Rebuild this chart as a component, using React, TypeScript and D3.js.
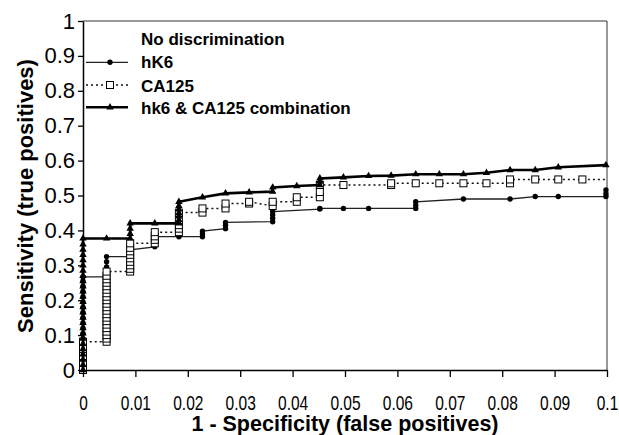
import { useEffect, useRef } from 'react';
import * as d3 from 'd3';

// ROC points: [1 - specificity, sensitivity]
const hk6Points: [number, number][] = [
  [0, 0], [0, 0.015], [0, 0.03], [0, 0.045], [0, 0.06], [0, 0.075], [0, 0.09], [0, 0.105],
  [0, 0.12], [0, 0.135], [0, 0.15], [0, 0.165], [0, 0.18], [0, 0.195], [0, 0.21], [0, 0.225],
  [0, 0.24], [0, 0.255], [0, 0.267],
  [0.0045, 0.267], [0.0045, 0.28], [0.0045, 0.295], [0.0045, 0.31], [0.0045, 0.325],
  [0.009, 0.325], [0.009, 0.335], [0.009, 0.344],
  [0.0137, 0.353], [0.0137, 0.365], [0.0137, 0.382],
  [0.0183, 0.382],
  [0.0228, 0.382], [0.0228, 0.39], [0.0228, 0.398],
  [0.0272, 0.405], [0.0272, 0.415], [0.0272, 0.423],
  [0.0362, 0.425], [0.0362, 0.435], [0.0362, 0.445], [0.0362, 0.454],
  [0.0452, 0.461], [0.0452, 0.463],
  [0.0497, 0.463], [0.0545, 0.463],
  [0.0635, 0.463], [0.0635, 0.472], [0.0635, 0.482],
  [0.0726, 0.49], [0.0815, 0.49], [0.0863, 0.497], [0.0907, 0.497],
  [0.0998, 0.497], [0.0998, 0.505], [0.0998, 0.516],
];

const ca125Points: [number, number][] = [
  [0, 0], [0, 0.02], [0, 0.04], [0, 0.06], [0, 0.081],
  [0.0045, 0.081], [0.0045, 0.09], [0.0045, 0.1], [0.0045, 0.11], [0.0045, 0.12], [0.0045, 0.13],
  [0.0045, 0.14], [0.0045, 0.15], [0.0045, 0.16], [0.0045, 0.17], [0.0045, 0.18], [0.0045, 0.19],
  [0.0045, 0.2], [0.0045, 0.21], [0.0045, 0.22], [0.0045, 0.23], [0.0045, 0.24], [0.0045, 0.25],
  [0.0045, 0.26], [0.0045, 0.27], [0.0045, 0.282],
  [0.009, 0.282], [0.009, 0.29], [0.009, 0.3], [0.009, 0.31], [0.009, 0.32], [0.009, 0.33],
  [0.009, 0.34], [0.009, 0.35], [0.009, 0.363],
  [0.0137, 0.363], [0.0137, 0.373], [0.0137, 0.383], [0.0137, 0.395],
  [0.0183, 0.395], [0.0183, 0.405], [0.0183, 0.415], [0.0183, 0.43], [0.0183, 0.451],
  [0.0228, 0.451], [0.0228, 0.463],
  [0.0272, 0.463], [0.0272, 0.477],
  [0.0317, 0.477], [0.0317, 0.482],
  [0.0362, 0.47], [0.0362, 0.482],
  [0.0408, 0.482], [0.0408, 0.495],
  [0.0452, 0.495], [0.0452, 0.51], [0.0452, 0.53],
  [0.0497, 0.53], [0.0588, 0.53], [0.0588, 0.535],
  [0.0635, 0.535], [0.068, 0.535], [0.0726, 0.535], [0.077, 0.535],
  [0.0815, 0.535], [0.0815, 0.546],
  [0.0863, 0.546], [0.0907, 0.546], [0.0953, 0.546], [0.1, 0.546],
];

const comboPoints: [number, number][] = [
  [0, 0], [0, 0.015], [0, 0.03], [0, 0.045], [0, 0.06], [0, 0.075], [0, 0.09], [0, 0.105],
  [0, 0.12], [0, 0.135], [0, 0.15], [0, 0.165], [0, 0.18], [0, 0.195], [0, 0.21], [0, 0.225],
  [0, 0.24], [0, 0.255], [0, 0.27], [0, 0.285], [0, 0.3], [0, 0.315], [0, 0.33], [0, 0.345],
  [0, 0.36], [0, 0.377],
  [0.0045, 0.377],
  [0.009, 0.377], [0.009, 0.39], [0.009, 0.405], [0.009, 0.42],
  [0.0137, 0.42],
  [0.0183, 0.42], [0.0183, 0.43], [0.0183, 0.44], [0.0183, 0.45], [0.0183, 0.46], [0.0183, 0.47], [0.0183, 0.482],
  [0.0228, 0.495], [0.0272, 0.506], [0.0317, 0.509],
  [0.0362, 0.511], [0.0362, 0.523],
  [0.0408, 0.527],
  [0.0452, 0.53], [0.0452, 0.54], [0.0452, 0.549],
  [0.0497, 0.552], [0.0545, 0.556], [0.0588, 0.557], [0.0635, 0.561], [0.068, 0.561],
  [0.0726, 0.561], [0.077, 0.565], [0.0815, 0.573], [0.0863, 0.573], [0.0907, 0.581],
  [0.0998, 0.587],
];

const xTicks = [0, 0.01, 0.02, 0.03, 0.04, 0.05, 0.06, 0.07, 0.08, 0.09, 0.1];
const xTickLabels = ['0', '0.01', '0.02', '0.03', '0.04', '0.05', '0.06', '0.07', '0.08', '0.09', '0.1'];
const yTicks = [0, 0.1, 0.2, 0.3, 0.4, 0.5, 0.6, 0.7, 0.8, 0.9, 1];
const yTickLabels = ['0', '0.1', '0.2', '0.3', '0.4', '0.5', '0.6', '0.7', '0.8', '0.9', '1'];

const legendLabels = ['No discrimination', 'hK6', 'CA125', 'hk6 & CA125 combination'];

const App = () => {
  const svgRef = useRef<SVGSVGElement>(null);

  useEffect(() => {
    const svg = d3.select(svgRef.current);
    svg.selectAll('*').remove();

    const font = 'Arial, "Liberation Sans", sans-serif';
    const left = 83, right = 607, top = 21, bottom = 370;

    const x = d3.scaleLinear().domain([0, 0.1]).range([left, right]);
    const y = d3.scaleLinear().domain([0, 1]).range([bottom, top]);

    // frame (top and right)
    svg.append('path')
      .attr('d', `M${left},${top}H${right}V${bottom}`)
      .attr('fill', 'none')
      .attr('stroke', '#333')
      .attr('stroke-width', 1);

    const line = d3.line<[number, number]>().x(d => x(d[0])).y(d => y(d[1]));

    const drawSeries = (
      pts: [number, number][],
      stroke: { width: number; dash?: string; color: string },
      marker: string,
      skipLastMarker = false
    ) => {
      const g = svg.append('g');
      g.append('path')
        .attr('d', line(pts))
        .attr('fill', 'none')
        .attr('stroke', stroke.color)
        .attr('stroke-width', stroke.width)
        .attr('stroke-dasharray', stroke.dash ?? null);
      const markPts = skipLastMarker ? pts.slice(0, -1) : pts;
      if (marker === 'circle') {
        g.selectAll('circle').data(markPts).enter().append('circle')
          .attr('cx', d => x(d[0])).attr('cy', d => y(d[1])).attr('r', 2.7)
          .attr('fill', '#000');
      } else if (marker === 'square') {
        g.selectAll('rect').data(markPts).enter().append('rect')
          .attr('x', d => x(d[0]) - 3.5).attr('y', d => y(d[1]) - 3.5)
          .attr('width', 7).attr('height', 7)
          .attr('fill', '#fff').attr('stroke', '#000').attr('stroke-width', 1);
      } else {
        const tri = d3.symbol().type(d3.symbolTriangle).size(24);
        g.selectAll('path.m').data(markPts).enter().append('path')
          .attr('class', 'm')
          .attr('d', tri)
          .attr('transform', d => `translate(${x(d[0])},${y(d[1])})`)
          .attr('fill', '#000');
      }
    };

    drawSeries(hk6Points, { width: 1.3, color: '#222' }, 'circle');
    drawSeries(ca125Points, { width: 1.5, dash: '2,3', color: '#111' }, 'square', true);
    drawSeries(comboPoints, { width: 2.6, color: '#000' }, 'triangle');

    // axes
    const yAxis = svg.append('g')
      .attr('transform', `translate(${left},0)`)
      .call(
        d3.axisLeft(y).tickValues(yTicks).tickSize(5).tickSizeOuter(0)
          .tickFormat((_, i) => yTickLabels[i])
      );
    yAxis.select('.domain').attr('stroke-width', 1.5);
    yAxis.selectAll('.tick line').attr('stroke-width', 1.3);
    yAxis.selectAll('text')
      .attr('font-family', font)
      .attr('font-size', 22)
      .attr('fill', '#000')
      .attr('x', -8);

    const xAxis = svg.append('g')
      .attr('transform', `translate(0,${bottom})`)
      .call(
        d3.axisBottom(x).tickValues(xTicks).tickSize(7).tickSizeOuter(0)
          .tickFormat((_, i) => xTickLabels[i])
      );
    xAxis.select('.domain').attr('stroke-width', 1.5);
    xAxis.selectAll('.tick line').attr('stroke-width', 1.3);
    // tick labels in the picture are set in a narrow face: squeeze them
    xAxis.selectAll<SVGTextElement, unknown>('text')
      .attr('font-family', font)
      .attr('font-size', 21)
      .attr('fill', '#000')
      .attr('y', 33)
      .attr('dy', '0.35em')
      .attr('lengthAdjust', 'spacingAndGlyphs')
      .each(function () {
        const w = this.getComputedTextLength();
        d3.select(this).attr('textLength', (w * 0.74).toFixed(1));
      });

    // axis titles
    svg.append('text')
      .attr('x', 345).attr('y', 431)
      .attr('text-anchor', 'middle')
      .attr('font-family', font).attr('font-size', 21.5).attr('font-weight', 'bold')
      .text('1 - Specificity (false positives)');

    svg.append('text')
      .attr('transform', 'translate(33,196) rotate(-90)')
      .attr('text-anchor', 'middle')
      .attr('font-family', font).attr('font-size', 22).attr('font-weight', 'bold')
      .text('Sensitivity (true positives)');

    // legend
    const legendY = [45, 68.3, 91.5, 114];
    const lineY = [0, 62.3, 85, 107.3];
    legendLabels.forEach((label, i) => {
      svg.append('text')
        .attr('x', 141).attr('y', legendY[i])
        .attr('font-family', font).attr('font-size', 17).attr('font-weight', 'bold')
        .text(label);
    });
    svg.append('line').attr('x1', 86).attr('x2', 128).attr('y1', lineY[1]).attr('y2', lineY[1])
      .attr('stroke', '#222').attr('stroke-width', 1.3);
    svg.append('circle').attr('cx', 110).attr('cy', lineY[1]).attr('r', 2.7).attr('fill', '#000');
    svg.append('line').attr('x1', 86).attr('x2', 128).attr('y1', lineY[2]).attr('y2', lineY[2])
      .attr('stroke', '#111').attr('stroke-width', 1.5).attr('stroke-dasharray', '2,3');
    svg.append('rect').attr('x', 106.5).attr('y', lineY[2] - 3.5).attr('width', 7).attr('height', 7)
      .attr('fill', '#fff').attr('stroke', '#000');
    svg.append('line').attr('x1', 86).attr('x2', 128).attr('y1', lineY[3]).attr('y2', lineY[3])
      .attr('stroke', '#000').attr('stroke-width', 2.6);
    svg.append('path').attr('d', d3.symbol().type(d3.symbolTriangle).size(24)())
      .attr('transform', `translate(110,${lineY[3]})`).attr('fill', '#000');
  }, []);

  return (
    <svg
      ref={svgRef}
      width={619}
      height={435}
      style={{ position: 'absolute', left: 0, top: 0, background: '#fff' }}
    />
  );
};

export default App;
